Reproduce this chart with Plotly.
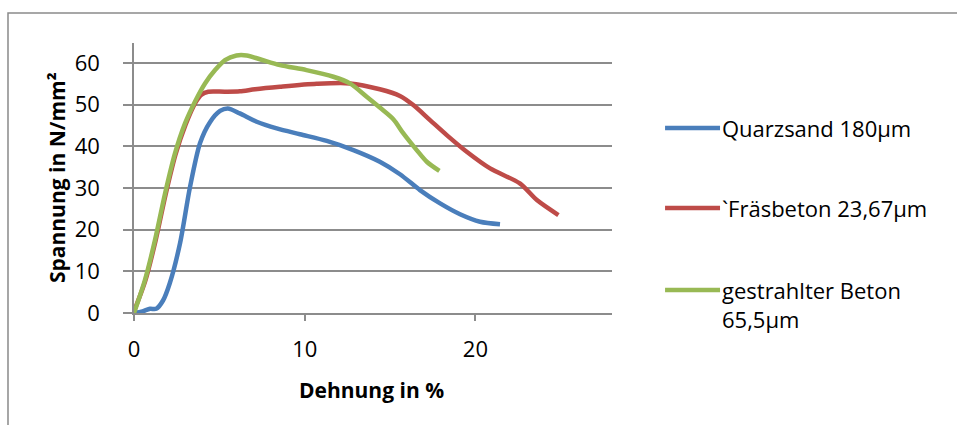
import plotly.graph_objects as go

# Stress-strain curves for three surface preparations
series_names = ["Quarzsand 180µm", "`Fräsbeton 23,67µm", "gestrahlter Beton<br>65,5µm"]
series_colors = ["#4A7EBB", "#BE4B48", "#98B954"]

quarz_x = [0.0, 0.5, 0.94, 1.3, 1.7, 2.1, 2.7, 3.28, 3.87, 4.45, 5.04, 5.5, 6.2, 7.19, 8.36,
           9.72, 11.29, 12.85, 14.4, 15.58, 16.75, 17.93, 19.1, 20.27, 21.44]
quarz_y = [0.0, 0.4, 1.0, 1.0, 3.0, 7.2, 16.8, 30.2, 40.8, 45.8, 48.5, 49.1, 47.9, 45.9, 44.3,
           42.9, 41.3, 39.1, 36.3, 33.3, 29.5, 26.3, 23.7, 21.9, 21.3]

fraes_x = [0.0, 0.66, 1.26, 1.85, 2.43, 3.02, 3.6, 3.95, 4.35, 5.33, 6.2, 7.09, 8.55, 10.7,
           12.65, 14.4, 15.58, 16.36, 17.34, 18.32, 19.49, 20.86, 22.6, 23.6, 24.86]
fraes_y = [0.4, 7.7, 17.3, 28.4, 38.0, 45.2, 50.5, 52.4, 53.1, 53.1, 53.2, 53.7, 54.3,
           55.0, 55.1, 53.7, 52.1, 49.9, 46.3, 42.7, 38.7, 34.7, 31.1, 27.1, 23.5]

strahl_x = [0.0, 0.64, 1.23, 1.82, 2.4, 2.99, 3.57, 4.16, 4.75, 5.33, 6.0, 6.6, 7.38, 8.55,
            10.1, 11.68, 12.65, 13.63, 14.4, 15.19, 15.78, 16.56, 17.15, 17.89]
strahl_y = [0.0, 7.9, 17.5, 28.7, 38.3, 45.5, 50.7, 55.1, 58.3, 60.7, 61.8, 61.8, 60.9, 59.5,
            58.3, 56.7, 55.1, 51.9, 49.3, 46.5, 43.1, 39.1, 36.3, 34.1]

x_ticks = [0, 10, 20]
y_ticks = [0, 10, 20, 30, 40, 50, 60]

xs = [quarz_x, fraes_x, strahl_x]
ys = [quarz_y, fraes_y, strahl_y]

FONT = "Open Sans"
FS = 22
GRID = "#8C8C8C"

fig = go.Figure()
for name, color, x, y in zip(series_names, series_colors, xs, ys):
    fig.add_trace(go.Scatter(
        x=x, y=y, mode="lines", name=name.replace("<br>", " "),
        line=dict(color=color, width=4.5, shape="spline", smoothing=0.8),
        showlegend=False,
    ))

# Legend drawn beside the plot: a short line sample and its label per series
legend_rows = [0.685, 0.389, 0.085]
shapes = []
annotations = []
for name, color, yrow in zip(series_names, series_colors, legend_rows):
    two_lines = "<br>" in name
    shapes.append(dict(type="line", xref="paper", yref="paper",
                       x0=1.111, x1=1.226, y0=yrow, y1=yrow,
                       line=dict(color=color, width=4.5)))
    annotations.append(dict(xref="paper", yref="paper", x=1.226, y=yrow,
                            xanchor="left", yanchor="top" if two_lines else "middle",
                            yshift=17 if two_lines else 0,
                            text=name, showarrow=False, align="left",
                            font=dict(family=FONT, size=FS, color="#000000")))

# Outer chart frame (runs past the right and bottom edges)
shapes.append(dict(type="rect", xref="paper", yref="paper",
                   x0=-0.2636, x1=1.75, y0=-0.45, y1=1.111,
                   line=dict(color="#8A8A8A", width=1.5), fillcolor="rgba(0,0,0,0)",
                   layer="below"))

annotations.append(dict(xref="paper", yref="paper", x=0.496, y=-0.285,
                        xanchor="center", yanchor="middle", text="<b>Dehnung in %</b>",
                        showarrow=False, font=dict(family=FONT, size=21, color="#000000")))
annotations.append(dict(xref="paper", yref="paper", x=-0.161, y=0.5,
                        xanchor="center", yanchor="middle", textangle=-90,
                        text="<b>Spannung in N/mm²</b>",
                        showarrow=False, font=dict(family=FONT, size=21, color="#000000")))

fig.update_layout(
    width=957, height=425,
    margin=dict(l=134, r=345, t=43, b=112),
    paper_bgcolor="white", plot_bgcolor="white",
    font=dict(family=FONT, size=FS, color="#000000"),
    shapes=shapes, annotations=annotations,
    xaxis=dict(range=[0, 28], tickvals=x_ticks, ticktext=[str(v) for v in x_ticks],
               showgrid=False, zeroline=False, showline=True, linecolor=GRID, linewidth=1.5,
               ticks="outside", ticklen=6, tickcolor=GRID, tickwidth=1.5,
               ticklabelstandoff=10),
    yaxis=dict(range=[0, 64.8], tickvals=y_ticks, ticktext=[str(v) for v in y_ticks],
               showgrid=True, gridcolor=GRID, gridwidth=1.5, zeroline=False,
               showline=True, linecolor=GRID, linewidth=1.5,
               ticks="outside", ticklen=9, tickcolor=GRID, tickwidth=1.5,
               ticklabelstandoff=19),
)

fig.write_html("out.html")
